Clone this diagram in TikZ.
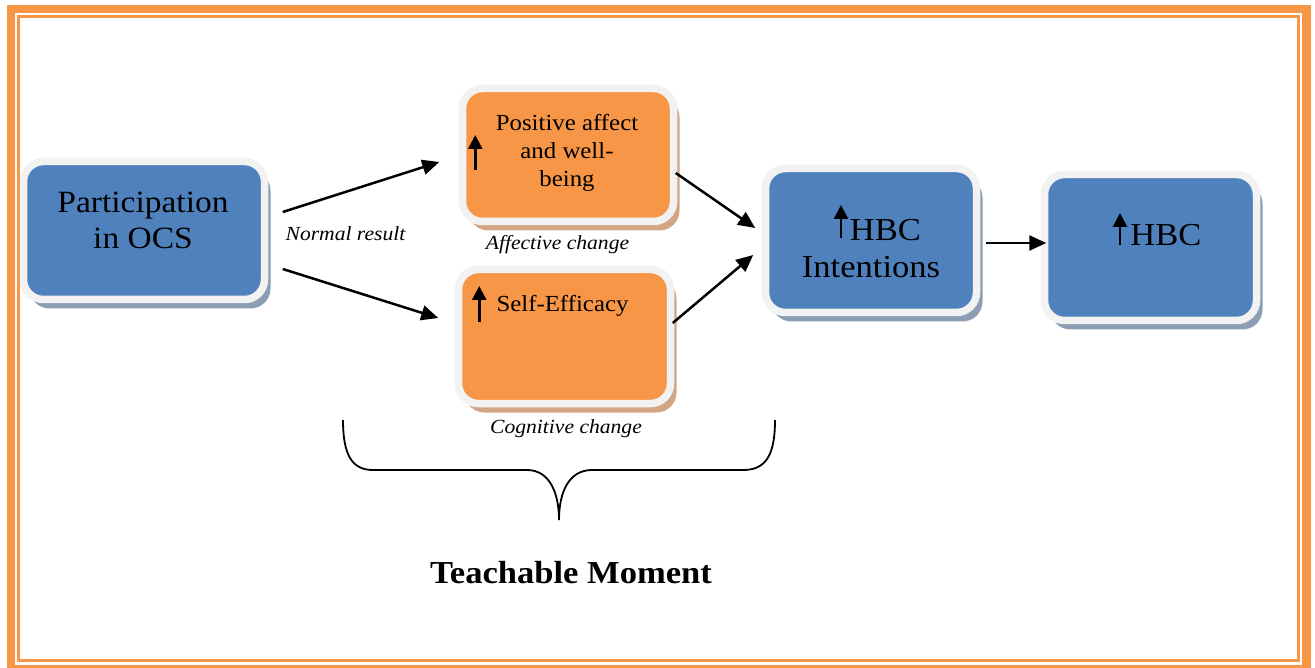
\documentclass[tikz,border=0pt]{standalone}
\usepackage{fontspec}
\setmainfont{Liberation Serif}[FakeStretch=1.08]
\usetikzlibrary{arrows.meta,shadows}

\definecolor{ocsblue}{HTML}{4F81BD}
\definecolor{ocsorange}{HTML}{F79646}
\definecolor{rimgray}{HTML}{F2F2F2}
\definecolor{blueshade}{HTML}{8C9DB4}
\definecolor{orangeshade}{HTML}{D2A585}

\tikzset{
  box/.style={rectangle, rounded corners=20pt, draw=rimgray, line width=7.5pt, inner sep=0pt},
  bluebox/.style={box, fill=ocsblue, drop shadow={shadow xshift=6pt, shadow yshift=-9pt, fill=blueshade, opacity=1}},
  orangebox/.style={box, fill=ocsorange, drop shadow={shadow xshift=6pt, shadow yshift=-9pt, fill=orangeshade, opacity=1}},
  boxtext/.style={inner sep=0pt, align=center},
  conn/.style={line width=2.5pt, -{Triangle[length=17pt,width=15pt]}},
  uparr/.style={line width=2.5pt, -{Triangle[length=14pt,width=14pt]}},
  lbl/.style={inner sep=0pt, font=\fontsize{20}{24}\selectfont\itshape},
}

\begin{document}
\begin{tikzpicture}[x=1pt, y=-1pt]
    \useasboundingbox (0,0) rectangle (1315,668);
    % double frame round the page
    \draw[ocsorange, line width=8.5pt] (11,9) rectangle (1306.7,669);
    \draw[ocsorange, line width=3pt] (18.3,17) rectangle (1298,660.7);

    % boxes
    \node[bluebox, minimum width=241pt, minimum height=138pt] (part) at (144,230.5) {};
    \node[orangebox, minimum width=211pt, minimum height=133pt] (pos) at (568,155) {};
    \node[orangebox, minimum width=212pt, minimum height=134pt] (self) at (564.5,336.5) {};
    \node[bluebox, minimum width=211pt, minimum height=144pt] (intent) at (871,240.5) {};
    \node[bluebox, minimum width=212pt, minimum height=146pt] (hbc) at (1150.5,247.5) {};

    % box texts
    \node[boxtext, font=\fontsize{31}{36}\selectfont] (parttxt) at (143,220.6) {Participation\\in OCS};
    \node[boxtext, font=\fontsize{23}{28}\selectfont] (postxt) at (567,152.7) {Positive affect\\and well-\\being};
    \node[boxtext, font=\fontsize{23}{28}\selectfont, anchor=base] (seftxt) at (562.5,312) {Self-Efficacy};
    \node[boxtext, font=\fontsize{32}{37}\selectfont] (inttxt) at (871,249) {\hspace*{29pt}HBC\\Intentions};
    \node[boxtext, font=\fontsize{32}{37}\selectfont, anchor=base] (hbctxt) at (1166,246) {HBC};

    % small "increase" arrows
    \draw[uparr] ([shift={(16.5,15)}]pos.west) -- ([shift={(16.5,-20)}]pos.west);
    \draw[uparr] ([shift={(24.5,-14.5)}]self.west) -- ([shift={(24.5,-50.5)}]self.west);
    \draw[uparr] ([shift={(-30,-2.5)}]intent.center) -- ([shift={(-30,-35.5)}]intent.center);
    \draw[uparr] ([shift={(-30.5,-2.5)}]hbc.center) -- ([shift={(-30.5,-34.5)}]hbc.center);

    % connectors
    \draw[conn] ([shift={(14.5,-18.5)}]part.east) -- ([shift={(-19.5,7)}]pos.west);
    \draw[conn] ([shift={(14.5,38.5)}]part.east) -- ([shift={(-16.5,-18.5)}]self.west);
    \draw[conn] ([shift={(-1.5,18)}]pos.east) -- ([shift={(-6.5,-12.5)}]intent.west);
    \draw[conn] ([shift={(-1.5,-13.5)}]self.east) -- ([shift={(-8.5,14.5)}]intent.west);
    \draw[conn] ([shift={(5.5,2.5)}]intent.east) -- ([shift={(5.5,-4.5)}]hbc.west);

    % captions
    \node[lbl, anchor=base] (normlbl) at (345.5,241) {Normal result};
    \node[lbl, anchor=base] (afflbl) at (557.5,250) {Affective change};
    \node[lbl, anchor=base] (coglbl) at (566,433) {Cognitive change};

    % brace under the two middle boxes
    \draw[line width=1.8pt] (343,420) .. controls (343,455) and (352,470) .. (373,470) -- (527,470)
        .. controls (549,470) and (559,492) .. (559,520) .. controls (559,492) and (569,470) .. (592,470)
        -- (743,470) .. controls (766,470) and (775,455) .. (775,420);
    \node[inner sep=0pt, anchor=base, font=\fontsize{32}{38}\selectfont\bfseries] (teach) at (571,583) {Teachable Moment};
\end{tikzpicture}
\end{document}
